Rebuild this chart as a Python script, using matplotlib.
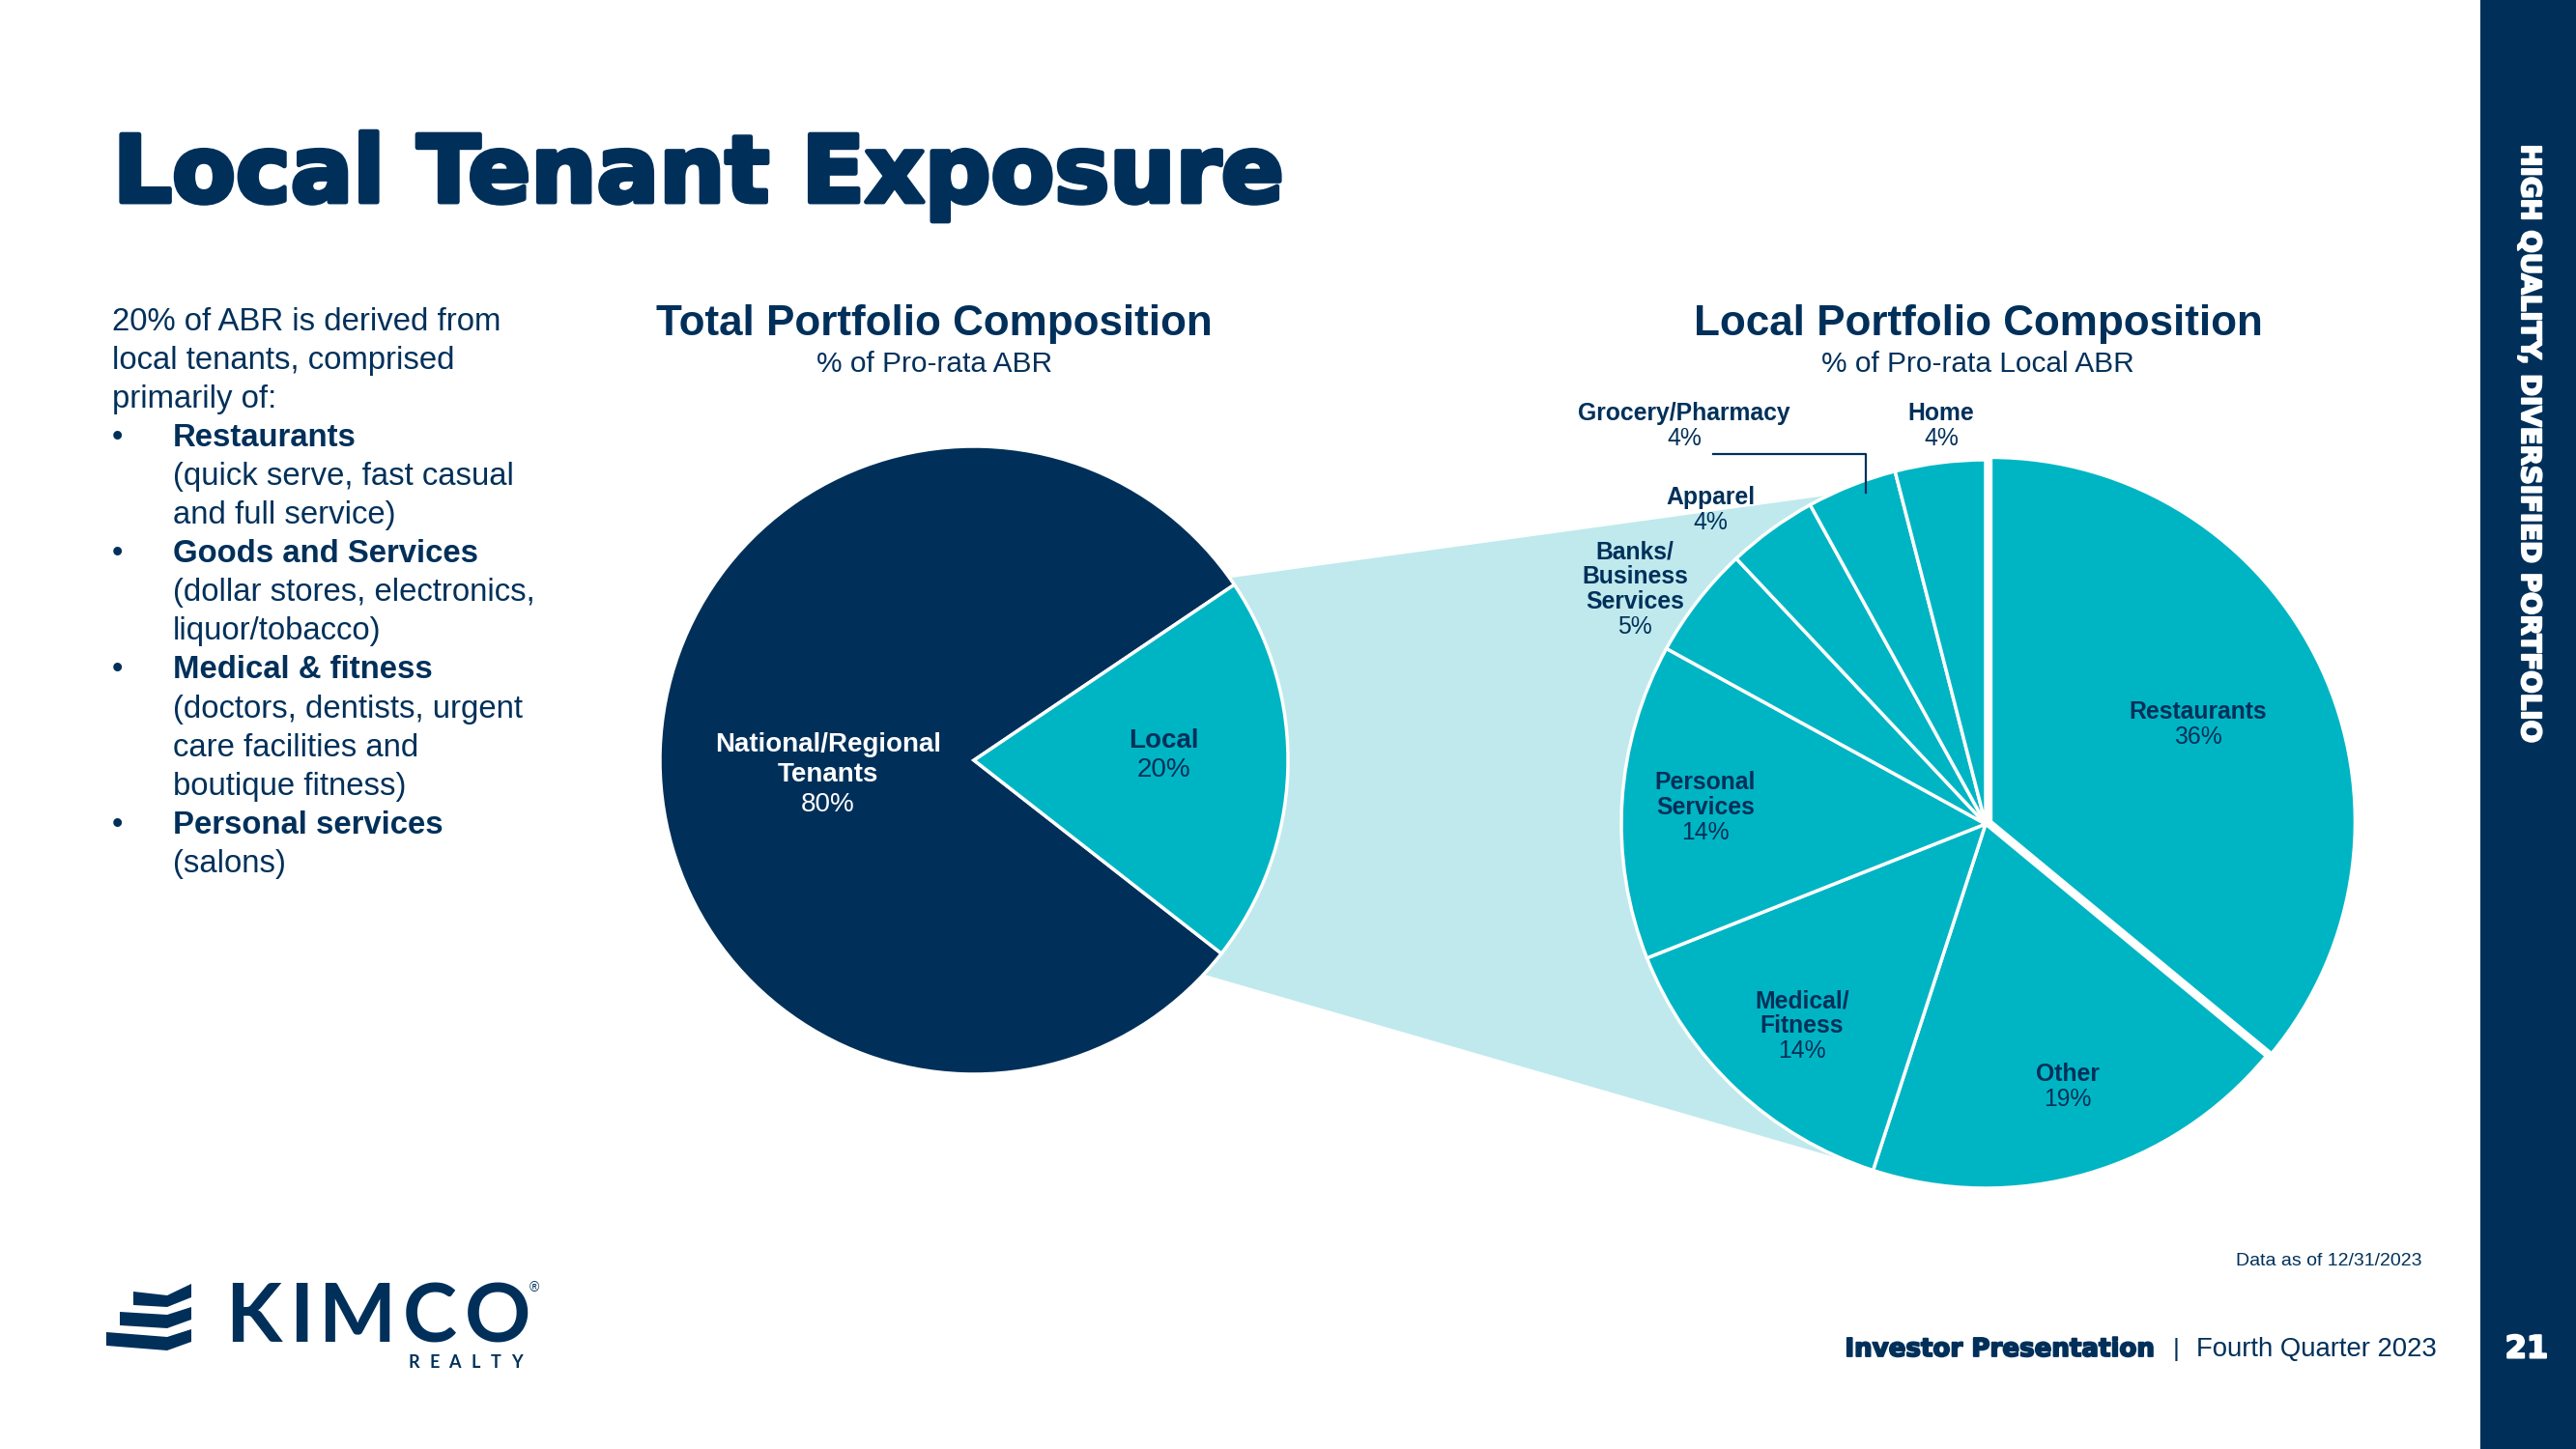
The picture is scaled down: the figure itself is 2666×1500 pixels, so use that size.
import matplotlib.pyplot as plt
import matplotlib.patheffects as pe
from matplotlib.patches import Polygon, Rectangle
import numpy as np

NAVY = "#00305a"
TEAL = "#00b5c3"
LIGHT = "#bfe9ed"
BODY = "Liberation Sans"
HEAVY = "DejaVu Sans"

# data
total_names = ["National/Regional\nTenants", "Local"]
total_values = [80, 20]
local_names = ["Restaurants", "Other", "Medical/\nFitness", "Personal\nServices",
               "Banks/\nBusiness\nServices", "Apparel", "Grocery/Pharmacy", "Home"]
local_values = [36, 19, 14, 14, 5, 4, 4, 4]

bullets = [
    ("Restaurants", ["(quick serve, fast casual", "and full service)"]),
    ("Goods and Services", ["(dollar stores, electronics,", "liquor/tobacco)"]),
    ("Medical & fitness", ["(doctors, dentists, urgent", "care facilities and", "boutique fitness)"]),
    ("Personal services", ["(salons)"]),
]

W, H = 2666, 1500
fig = plt.figure(figsize=(W / 100, H / 100), dpi=100)
ax = fig.add_axes([0, 0, 1, 1])


def Y(y):
    return H - y


def heavy(color, lw):
    # thicken a bold face towards a black weight
    return [pe.withStroke(linewidth=lw, foreground=color)]


# pie geometry (pixels, top-left origin)
lc, lr = (1008, 787), 325
rc, rr = (2055, 853), 377


def on_circle(c, r, deg):
    a = np.radians(deg)
    return (c[0] + r * np.cos(a), Y(c[1]) + r * np.sin(a))


# light connector between the two pies
conn = Polygon([on_circle(lc, lr, 35.5), on_circle(rc, rr, 115.5),
                on_circle(rc, rr, -112.5), on_circle(lc, lr, -43)],
               closed=True, facecolor=LIGHT, edgecolor="none", zorder=0)
ax.add_patch(conn)

ax.pie(total_values, colors=[NAVY, TEAL], startangle=34, counterclock=True,
       center=(lc[0], Y(lc[1])), radius=lr,
       wedgeprops=dict(edgecolor="white", linewidth=2.5))

explode = [6] + [0] * (len(local_values) - 1)
ax.pie(local_values, colors=[TEAL] * len(local_values), startangle=90, counterclock=False,
       center=(rc[0], Y(rc[1])), radius=rr, explode=explode,
       wedgeprops=dict(edgecolor="white", linewidth=2.5))


def pie_label(x, y, name, pct, color, size, step):
    lines = name.split("\n") + [pct]
    n = len(lines)
    for i, t in enumerate(lines):
        yy = y + (i - (n - 1) / 2) * step
        ax.text(x, Y(yy), t, ha="center", va="center", color=color, fontsize=size,
                family=BODY, fontweight="normal" if i == n - 1 else "bold", zorder=5)


left_pos = [(857, 802), (1204, 782)]
left_colors = ["white", NAVY]
for (x, y), nm, v, c in zip(left_pos, total_names, total_values, left_colors):
    pie_label(x, y, nm, f"{v}%", c, 20, 30.5)

right_pos = [(2275, 750), (2140, 1125), (1865, 1062), (1765, 836),
             (1692, 610), (1770, 528), (1743, 441), (2009, 441)]
for (x, y), nm, v in zip(right_pos, local_names, local_values):
    pie_label(x, y, nm, f"{v}%", NAVY, 17.8, 25.8)

# leader line for Grocery/Pharmacy
ax.plot([1773, 1931, 1931], [Y(470), Y(470), Y(510)], color=NAVY, lw=1.6, zorder=5)

# chart headings
for cx, head, sub in [(967, "Total Portfolio Composition", "% of Pro-rata ABR"),
                      (2047, "Local Portfolio Composition", "% of Pro-rata Local ABR")]:
    ax.text(cx, Y(335), head, ha="center", va="center", fontsize=31.7, family=BODY,
            fontweight="bold", color=NAVY)
    ax.text(cx, Y(377), sub, ha="center", va="center", fontsize=21.5, family=BODY, color=NAVY)

# title
ax.text(117, Y(209), "Local Tenant Exposure", ha="left", va="baseline", fontsize=69,
        family=HEAVY, fontweight="bold", color=NAVY, path_effects=heavy(NAVY, 3.5))

# left body text
y = 333
step = 40.1
for t in ["20% of ABR is derived from", "local tenants, comprised", "primarily of:"]:
    ax.text(116, Y(y), t, ha="left", va="center", fontsize=23.7, family=BODY, color=NAVY)
    y += step
for head, rest in bullets:
    ax.text(116, Y(y), "\u2022", ha="left", va="center", fontsize=23.7, family=BODY, color=NAVY)
    ax.text(179, Y(y), head, ha="left", va="center", fontsize=23.7, family=BODY,
            fontweight="bold", color=NAVY)
    y += step
    for t in rest:
        ax.text(179, Y(y), t, ha="left", va="center", fontsize=23.7, family=BODY, color=NAVY)
        y += step

# right sidebar
ax.add_patch(Rectangle((2567, 0), W - 2567, H, facecolor=NAVY, edgecolor="none", zorder=0))
ax.text(2618, Y(459), "HIGH QUALITY, DIVERSIFIED PORTFOLIO", rotation=-90, ha="center",
        va="center", fontsize=19.9, family=HEAVY, fontweight="bold", color="white",
        path_effects=heavy("white", 1.5))
ax.text(2615, Y(1397), "21", ha="center", va="center", fontsize=23, family=HEAVY,
        fontweight="bold", color="white", path_effects=heavy("white", 1.5))

# footer
ax.text(2506, Y(1306), "Data as of 12/31/2023", ha="right", va="center", fontsize=14,
        family=BODY, color=NAVY)
ax.text(2231, Y(1397), "Investor Presentation", ha="right", va="center", fontsize=18.8,
        family=HEAVY, fontweight="bold", color=NAVY, path_effects=heavy(NAVY, 1.3))
ax.text(2252, Y(1397), "|", ha="center", va="center", fontsize=19, family=BODY, color=NAVY)
ax.text(2273, Y(1397), "Fourth Quarter 2023", ha="left", va="center", fontsize=19.8,
        family=BODY, color=NAVY)

# logo
icon = [
    [(138, 1337), (173, 1341), (198, 1329), (198, 1343), (173, 1353), (138, 1351)],
    [(124, 1358), (173, 1361), (198, 1353), (198, 1366), (173, 1375), (124, 1372)],
    [(110, 1379), (173, 1384), (198, 1376), (198, 1389), (173, 1398), (110, 1393)],
]
for pts in icon:
    ax.add_patch(Polygon([(px, Y(py)) for px, py in pts], closed=True,
                         facecolor=NAVY, edgecolor="none"))
for lx, ch in zip([262, 312, 369, 445, 515], "KIMCO"):
    ax.text(lx, Y(1389), ch, ha="center", va="baseline", fontsize=61, family="Lato",
            fontweight="bold", color=NAVY)
for lx, ch in zip(np.linspace(428, 535, 6), "REALTY"):
    ax.text(lx, Y(1416), ch, ha="center", va="baseline", fontsize=13, family="Lato",
            fontweight="bold", color=NAVY)
ax.text(553, Y(1333), "\u00ae", ha="center", va="center", fontsize=10, family=BODY, color=NAVY)

ax.set_xlim(0, W)
ax.set_ylim(0, H)
ax.set_aspect("equal")
ax.axis("off")

fig.savefig("out.png", dpi=100, facecolor="white")
